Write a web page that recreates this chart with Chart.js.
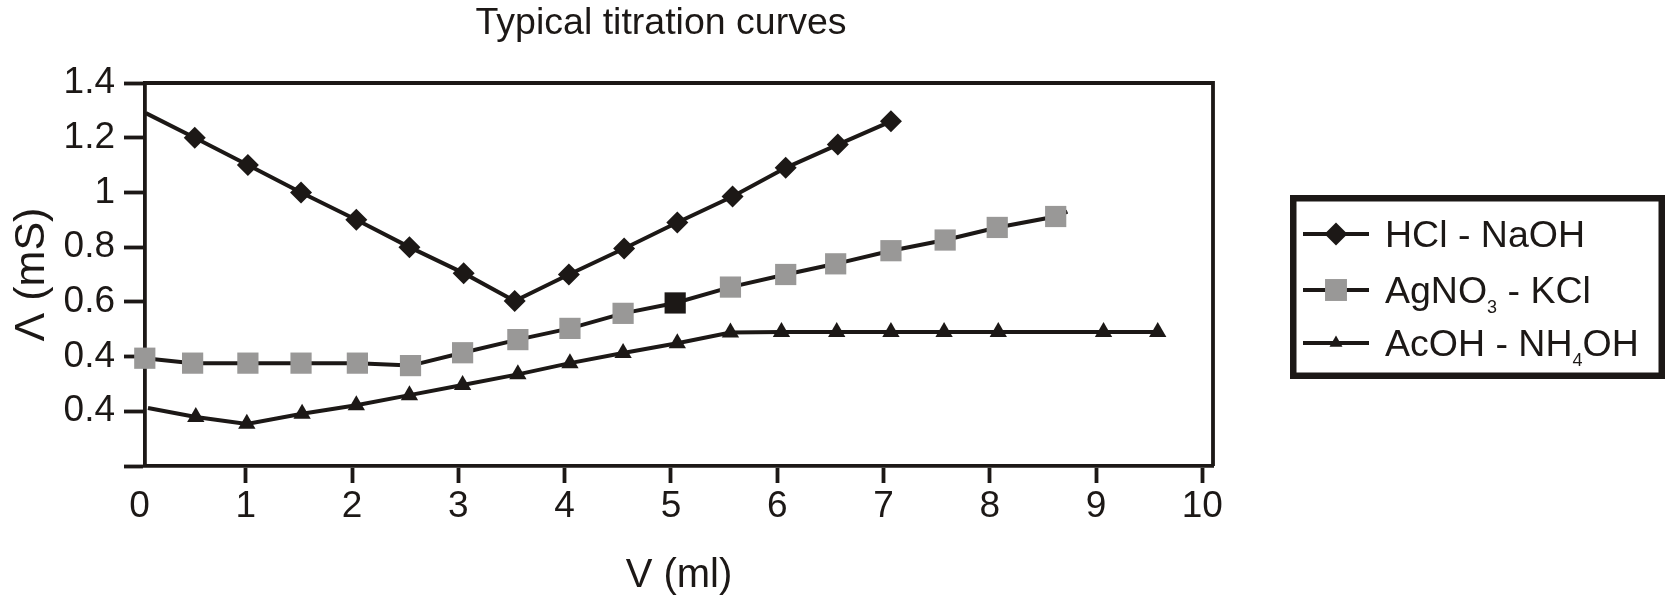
<!DOCTYPE html>
<html><head><meta charset="utf-8">
<script src="https://cdn.jsdelivr.net/npm/chart.js@4.4.1/dist/chart.umd.min.js"></script>
<style>html,body{margin:0;padding:0;background:#fff;overflow:hidden}#wrap{width:1669px;height:599px;position:relative}canvas{display:block}</style>
</head><body><div id="wrap"><canvas id="c" width="1669" height="599" style="width:1669px;height:599px"></canvas></div>
<script>
const titleText = "Typical titration curves";
const xTitle = "V (ml)";
const yTitle = "Λ (mS)";
const xTicks = [0, 1, 2, 3, 4, 5, 6, 7, 8, 9, 10];
const yTicks = [0, 0.2, 0.4, 0.6, 0.8, 1, 1.2, 1.4];
const yTickLabels = ["", "0.4", "0.4", "0.6", "0.8", "1", "1.2", "1.4"];
const seriesNames = ["HCl - NaOH", "AgNO₃ - KCl", "AcOH - NH₄OH"];

const hclX = [0.06, 0.52, 1.02, 1.52, 2.04, 2.54, 3.05, 3.53, 4.04, 4.56, 5.06, 5.58, 6.08, 6.57, 7.07];
const hclY = [1.29, 1.20, 1.10, 1.00, 0.90, 0.80, 0.705, 0.603, 0.70, 0.795, 0.89, 0.985, 1.09, 1.175, 1.26];
const agX = [0.05, 0.50, 1.02, 1.52, 2.05, 2.55, 3.04, 3.56, 4.05, 4.55, 5.04, 5.56, 6.08, 6.55, 7.07, 7.58, 8.07, 8.62, 8.73];
const agY = [0.394, 0.376, 0.376, 0.376, 0.376, 0.367, 0.414, 0.462, 0.503, 0.558, 0.596, 0.654, 0.70, 0.739, 0.787, 0.826, 0.872, 0.912, 0.93];
const acX = [0.08, 0.53, 1.01, 1.53, 2.04, 2.54, 3.04, 3.56, 4.05, 4.55, 5.06, 5.56, 6.04, 6.56, 7.07, 7.57, 8.08, 9.07, 9.58];
const acY = [0.212, 0.179, 0.154, 0.191, 0.222, 0.259, 0.296, 0.335, 0.376, 0.413, 0.449, 0.488, 0.49, 0.49, 0.49, 0.49, 0.49, 0.49, 0.49];

const BLACK = '#1c1816';
const GRAY = '#999897';
const FONT = "'Liberation Sans', Arial, Helvetica, sans-serif";
Chart.defaults.font.family = FONT;
Chart.defaults.color = BLACK;

const pts = (xs, ys) => xs.map((x, i) => ({x: x, y: ys[i]}));

const legendMarker = [
  {style: 'rectRot', r: 11.5, fill: BLACK},
  {style: 'rect', r: 15.5, fill: GRAY},
  {style: 'triangle', r: 7.5, fill: BLACK}
];

const framePlugin = {
  id: 'frame',
  afterDatasetsDraw(chart) {
    const {ctx, chartArea: a} = chart;
    ctx.save();
    ctx.strokeStyle = BLACK;
    ctx.lineWidth = 3.8;
    ctx.beginPath();
    ctx.moveTo(a.left, a.top);
    ctx.lineTo(a.right, a.top);
    ctx.lineTo(a.right, a.bottom);
    ctx.stroke();
    ctx.restore();
  }
};

const titlePlugin = {
  id: 'customTitle',
  afterDraw(chart) {
    const ctx = chart.ctx;
    ctx.save();
    ctx.font = "37.5px " + FONT;
    ctx.fillStyle = BLACK;
    ctx.textAlign = 'center';
    ctx.textBaseline = 'alphabetic';
    ctx.fillText(titleText, 661, 34);
    ctx.restore();
  }
};

function drawRich(ctx, text, x, y) {
  const subs = '₀₁₂₃₄₅₆₇₈₉';
  let cx = x;
  for (const ch of text) {
    const k = subs.indexOf(ch);
    if (k >= 0) {
      ctx.font = "18px " + FONT;
      ctx.fillText(String(k), cx, y + 10);
      cx += ctx.measureText(String(k)).width;
    } else {
      ctx.font = "37.5px " + FONT;
      ctx.fillText(ch, cx, y);
      cx += ctx.measureText(ch).width;
    }
  }
}

function markerPath(ctx, style, r, x, y) {
  ctx.beginPath();
  if (style === 'rectRot') {
    ctx.moveTo(x, y - r); ctx.lineTo(x + r, y); ctx.lineTo(x, y + r); ctx.lineTo(x - r, y);
  } else if (style === 'rect') {
    const h = r * Math.SQRT1_2;
    ctx.rect(x - h, y - h, 2 * h, 2 * h);
  } else {
    ctx.moveTo(x, y - r);
    ctx.lineTo(x + r * Math.sin(2 * Math.PI / 3), y + r * 0.5);
    ctx.lineTo(x - r * Math.sin(2 * Math.PI / 3), y + r * 0.5);
  }
  ctx.closePath();
}

const legendPlugin = {
  id: 'customLegend',
  afterDraw(chart) {
    const ctx = chart.ctx;
    const left = 1290, top = 195, right = 1665, bottom = 379;
    ctx.save();
    ctx.strokeStyle = BLACK;
    ctx.lineWidth = 6.5;
    ctx.strokeRect(left + 3.25, top + 3.25, right - left - 6.5, bottom - top - 6.5);
    const rows = [234, 290, 343];
    seriesNames.forEach((name, i) => {
      const y = rows[i];
      ctx.strokeStyle = BLACK;
      ctx.lineWidth = 4;
      ctx.beginPath();
      ctx.moveTo(1303, y);
      ctx.lineTo(1369, y);
      ctx.stroke();
      const m = legendMarker[i];
      markerPath(ctx, m.style, m.r, 1336, y);
      ctx.fillStyle = m.fill;
      ctx.fill();
      ctx.fillStyle = BLACK;
      ctx.textAlign = 'left';
      ctx.textBaseline = 'alphabetic';
      drawRich(ctx, name, 1385, y + 13);
    });
    ctx.restore();
  }
};

const common = {
  showLine: true,
  borderColor: BLACK,
  borderWidth: 4,
  pointBorderWidth: 0,
  pointBorderColor: 'rgba(0,0,0,0)',
  clip: false,
  tension: 0
};

const chart = new Chart(document.getElementById('c'), {
  type: 'scatter',
  data: {
    datasets: [
      Object.assign({}, common, {
        label: seriesNames[0],
        data: pts(hclX, hclY),
        pointStyle: 'rectRot',
        pointRadius: ctx => ctx.dataIndex === 0 ? 0 : 11,
        pointBackgroundColor: BLACK
      }),
      Object.assign({}, common, {
        label: seriesNames[1],
        data: pts(agX, agY),
        pointStyle: 'rect',
        pointRadius: ctx => ctx.dataIndex === agX.length - 1 ? 0 : 15,
        pointBackgroundColor: ctx => ctx.dataIndex === 10 ? BLACK : GRAY
      }),
      Object.assign({}, common, {
        label: seriesNames[2],
        data: pts(acX, acY),
        pointStyle: 'triangle',
        pointRadius: ctx => ctx.dataIndex === 0 ? 0 : 10,
        pointBackgroundColor: BLACK
      })
    ]
  },
  options: {
    responsive: false,
    maintainAspectRatio: false,
    animation: false,
    devicePixelRatio: 1,
    layout: {padding: {left: 0, right: 456, top: 83, bottom: 0}},
    plugins: {legend: {display: false}, title: {display: false}, tooltip: {enabled: false}},
    scales: {
      x: {
        type: 'linear',
        min: 0.052,
        max: 10.1,
        afterBuildTicks: s => { s.ticks = xTicks.map(v => ({value: v})); },
        afterFit: s => { s.height = 133; },
        ticks: {font: {size: 37}, color: BLACK, padding: 2, autoSkip: false, maxRotation: 0, minRotation: 0, includeBounds: false,
                callback: v => String(v)},
        grid: {drawOnChartArea: false, drawTicks: true, tickLength: 17, tickWidth: 3.8,
               tickColor: ctx => (ctx.tick && ctx.tick.value === 0) ? 'rgba(0,0,0,0)' : BLACK},
        border: {display: true, color: BLACK, width: 3.8},
        title: {display: true, text: xTitle, font: {size: 40, lineHeight: 1}, color: BLACK, padding: {top: 0, bottom: 3}}
      },
      y: {
        type: 'linear',
        min: 0,
        max: 1.4,
        afterBuildTicks: s => { s.ticks = yTicks.map(v => ({value: v})); },
        afterFit: s => { s.width = 145; },
        ticks: {font: {size: 37}, color: BLACK, padding: 9,
                callback: (v, i) => yTickLabels[i]},
        grid: {drawOnChartArea: false, drawTicks: true, tickLength: 21, tickWidth: 3.8, tickColor: BLACK},
        border: {display: true, color: BLACK, width: 3.8},
        title: {display: true, text: yTitle, font: {size: 43, lineHeight: 1}, color: BLACK, padding: {top: 11, bottom: 0}}
      }
    }
  },
  plugins: [framePlugin, titlePlugin, legendPlugin]
});
</script></body></html>
